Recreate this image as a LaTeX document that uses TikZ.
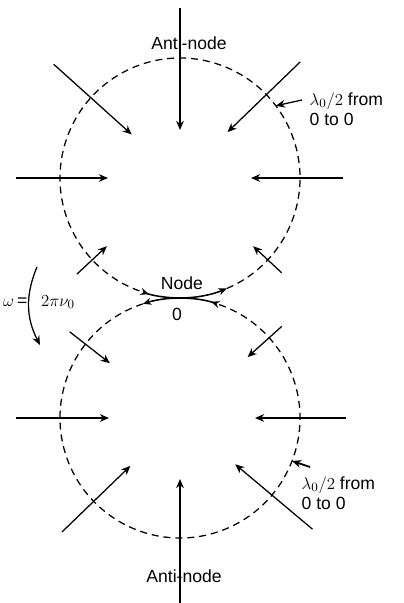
\documentclass[tikz,border=0pt]{standalone}
\usepackage{fontspec}
\setmainfont{Liberation Sans}
\usetikzlibrary{arrows.meta,calc}

\tikzset{
  ray/.style={line width=0.9pt,-{Stealth[length=6.5pt,width=5.5pt]}},
  wave/.style={line width=0.9pt,dash pattern=on 5pt off 3.5pt},
  cusp/.style={line width=1.1pt},
  lbl/.style={font=\fontsize{12.5}{14}\selectfont,inner sep=1pt},
}

\begin{document}
\begin{tikzpicture}[x=0.025cm,y=0.025cm]
  \useasboundingbox (0,0) rectangle (403,603);
  \def\R{120}
  \coordinate (uc) at (180,425);
  \coordinate (lc) at (180,185);
  \coordinate (nd) at (180,305);

  % the two wave circles, dashed away from the node
  \draw[wave] ($(uc)+(-67:\R)$) arc[start angle=-67,end angle=251,radius=\R];
  \draw[wave] ($(lc)+(108:\R)$) arc[start angle=108,end angle=431,radius=\R];

  % solid parts at the node
  \coordinate (ul) at ($(uc)+(251:\R)$);
  \coordinate (lr) at ($(lc)+(71:\R)$);
  \draw[cusp,{Stealth[reversed,length=6pt,width=5pt]}-] (ul) arc[start angle=251,end angle=270,radius=\R];
  \draw[cusp,-{Stealth[length=6pt,width=5pt]}] (nd) arc[start angle=270,end angle=293,radius=\R];
  \draw[cusp,{Stealth[reversed,length=6pt,width=5pt]}-] (lr) arc[start angle=71,end angle=90,radius=\R];
  \draw[cusp,-{Stealth[length=6pt,width=5pt]}] (nd) arc[start angle=90,end angle=108,radius=\R];

  % inward rays, upper circle
  \foreach \a/\o/\i [count=\n] in {90/170/48,138/170/65,44/167/66,180/164/72,
                                  0/163/71,223/141/100,317/139/100} {
    \coordinate (uo\n) at ($(uc)+(\a:\o)$);
    \coordinate (ui\n) at ($(uc)+(\a:\i)$);
    \draw[ray] (uo\n) -- (ui\n);
  }
  % inward rays, lower circle
  \foreach \a/\o/\i [count=\n] in {142/140/89,42/137/91,180/164/71,0/166/75,
                                  224/164/69,320/173/72,270/185/61} {
    \coordinate (lo\n) at ($(lc)+(\a:\o)$);
    \coordinate (li\n) at ($(lc)+(\a:\i)$);
    \draw[ray] (lo\n) -- (li\n);
  }

  % labels
  \node[lbl] (antiU) at (189,560) {Anti-node};
  \node[lbl] (antiL) at (184,27) {Anti-node};
  \node[lbl] (nodeT) at (182,320) {Node};
  \node[lbl] (zero) at (177,289) {0};
  \node[lbl,align=left,anchor=west] (lamU) at (308,494) {$\lambda_0/2$ from\\0 to 0};
  \node[lbl,align=left,anchor=west] (lamL) at (300,110) {$\lambda_0/2$ from\\0 to 0};

  % pointers to the circles
  \coordinate (lamUs) at (302,503);
  \coordinate (lamUc) at ($(uc)+(37:\R)$);
  \draw[ray] (lamUs) -- (lamUc);
  \coordinate (lamLs) at (310,136);
  \coordinate (lamLc) at ($(lc)+(-21:\R)$);
  \draw[ray,line width=1.3pt] (lamLs) -- (lamLc);

  % rotation
  \node[lbl,anchor=east] (om) at (29,301) {$\omega$\,=};
  \node[lbl] (tpn) at (58,301) {$2\pi\nu_0$};
  \coordinate (wt) at (37,336);
  \coordinate (wb) at (40,258);
  \draw[ray] (wt) to[bend right=25] (wb);
\end{tikzpicture}
\end{document}
